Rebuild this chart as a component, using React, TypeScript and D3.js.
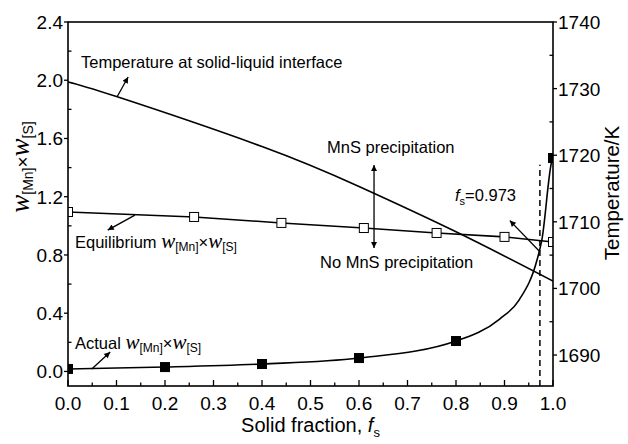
import React from 'react';
import * as d3 from 'd3';

// solid fraction / temperature at the interface (K)
const tempF = [0, 0.1, 0.4, 0.6, 0.8, 1.0];
const tempK = [1731, 1728.8, 1721.3, 1715.3, 1708.5, 1701.1];

// equilibrium w[Mn]*w[S] (open squares)
const eqF = [0, 0.26, 0.44, 0.61, 0.76, 0.9, 1.0];
const eqV = [1.095, 1.061, 1.02, 0.985, 0.951, 0.924, 0.889];

// actual w[Mn]*w[S]: markers and the curve through them
const actF = [0, 0.2, 0.4, 0.6, 0.8, 1.0];
const actV = [0.017, 0.03, 0.051, 0.092, 0.209, 1.466];
const actCurveF = [0, 0.2, 0.4, 0.6, 0.8, 0.89, 0.93, 0.967, 0.977, 0.998, 1.0];
const actCurveV = [0.017, 0.03, 0.051, 0.092, 0.209, 0.36, 0.49, 0.765, 0.903, 1.45, 1.466];

const xTicks = [0, 0.1, 0.2, 0.3, 0.4, 0.5, 0.6, 0.7, 0.8, 0.9, 1.0];
const yLTicks = [0, 0.4, 0.8, 1.2, 1.6, 2.0, 2.4];
const yRTicks = [1690, 1700, 1710, 1720, 1730, 1740];
const fsCrit = 0.973;

const W = 628, H = 444;
const L = 68, R = 553, T = 22, B = 386;
const font = '"Liberation Sans", Arial, sans-serif';
const serif = '"Liberation Serif", "Times New Roman", serif';

export default function App() {
  const x = d3.scaleLinear().domain([0, 1]).range([L, R]);
  const yL = d3.scaleLinear().domain([-0.1, 2.4]).range([B, T]);
  const yR = d3.scaleLinear().domain([1685.35, 1740]).range([B, T]);

  const natural = d3.line<[number, number]>().x(d => x(d[0])).y(d => d[1]).curve(d3.curveNatural);
  const smooth = d3.line<[number, number]>().x(d => x(d[0])).y(d => d[1]).curve(d3.curveMonotoneX);
  const straight = d3.line<[number, number]>().x(d => x(d[0])).y(d => d[1]);

  const tempPath = natural(tempF.map((f, i) => [f, yR(tempK[i])]));
  const eqPath = straight(eqF.map((f, i) => [f, yL(eqV[i])]));
  const actPath = smooth(actCurveF.map((f, i) => [f, yL(actCurveV[i])]));

  const xMinor = d3.range(0.05, 1, 0.1);
  const yLMinor = d3.range(0.2, 2.4, 0.4);
  const yRMinor = [1695, 1705, 1715, 1725, 1735];

  const arrow = (f1: number, v1: number, f2: number, v2: number, key: string) => (
    <line key={key} x1={x(f1)} y1={yL(v1)} x2={x(f2)} y2={yL(v2)} stroke="#000" strokeWidth={1.3}
      markerEnd="url(#ah)" />
  );

  const sq = 9;
  const wText = (size: number) => ({ fontFamily: serif, fontStyle: 'italic' as const, fontSize: size });

  return (
    <svg width={W} height={H} style={{ display: 'block', position: 'absolute', left: 0, top: 0, background: '#fff' }}>
      <defs>
        <clipPath id="plot"><rect x={L} y={T} width={R - L} height={B - T} /></clipPath>
        <marker id="ah" viewBox="0 0 10 10" refX="10" refY="5" markerWidth="9" markerHeight="6"
          markerUnits="userSpaceOnUse" orient="auto">
          <path d="M0,0 L10,5 L0,10 z" fill="#000" />
        </marker>
      </defs>
      <rect width={W} height={H} fill="#fff" />

      <g clipPath="url(#plot)" fill="none" stroke="#000" strokeWidth={1.6}>
        <path d={tempPath ?? ''} />
        <path d={eqPath ?? ''} />
        <path d={actPath ?? ''} />
        <line x1={x(fsCrit)} x2={x(fsCrit)} y1={B} y2={yL(1.42)} strokeDasharray="6,4" strokeWidth={1.5} />
        {eqF.map((f, i) => (
          <rect key={'e' + i} x={x(f) - sq / 2} y={yL(eqV[i]) - sq / 2} width={sq} height={sq}
            fill="#fff" stroke="#000" strokeWidth={1} />
        ))}
        {actF.map((f, i) => (
          <rect key={'a' + i} x={x(f) - sq / 2} y={yL(actV[i]) - sq / 2} width={sq} height={sq}
            fill="#000" stroke="#000" strokeWidth={1} />
        ))}
      </g>

      {/* frame */}
      <rect x={L} y={T} width={R - L} height={B - T} fill="none" stroke="#000" strokeWidth={1.6} />

      {/* ticks */}
      <g stroke="#000" strokeWidth={1.3}>
        {xTicks.map(t => <line key={'xt' + t} x1={x(t)} x2={x(t)} y1={B} y2={B - 6} />)}
        {xMinor.map(t => <line key={'xm' + t} x1={x(t)} x2={x(t)} y1={B} y2={B - 3.5} />)}
        {yLTicks.map(t => <line key={'ylt' + t} x1={L - 4} x2={L} y1={yL(t)} y2={yL(t)} />)}
        {yLMinor.map(t => <line key={'ylm' + t} x1={L} x2={L + 3.5} y1={yL(t)} y2={yL(t)} />)}
        {yRTicks.map(t => <line key={'yrt' + t} x1={R} x2={R + 4} y1={yR(t)} y2={yR(t)} />)}
        {yRMinor.map(t => <line key={'yrm' + t} x1={R - 3.5} x2={R} y1={yR(t)} y2={yR(t)} />)}
      </g>

      <g fontFamily={font} fontSize={19} fill="#000">
        {xTicks.map(t => (
          <text key={'xl' + t} x={x(t)} y={B + 24} textAnchor="middle">{t.toFixed(1)}</text>
        ))}
        {yLTicks.map(t => (
          <text key={'yl' + t} x={L - 5} y={yL(t) + 7} textAnchor="end">{t.toFixed(1)}</text>
        ))}
        {yRTicks.map(t => (
          <text key={'yr' + t} x={R + 5} y={yR(t) + 7} textAnchor="start">{t}</text>
        ))}
      </g>

      {/* axis titles */}
      <text x={(L + R) / 2} y={432} textAnchor="middle" fontFamily={font} fontSize={20}>
        Solid fraction, <tspan fontStyle="italic">f</tspan><tspan fontSize={13} dy={5}>s</tspan>
      </text>
      <text transform="translate(29,167) rotate(-90)" textAnchor="middle" fontFamily={font} fontSize={19}>
        <tspan {...wText(27)}>w</tspan><tspan fontSize={14} dy={4}>[Mn]</tspan>
        <tspan dy={-4}>×</tspan><tspan {...wText(27)}>w</tspan><tspan fontSize={14} dy={4}>[S]</tspan>
      </text>
      <text transform="translate(619,193) rotate(-90)" textAnchor="middle" fontFamily={font} fontSize={20.5}>
        Temperature/K
      </text>

      {/* annotations */}
      <g fontFamily={font} fontSize={16.5} fill="#000">
        <text x={81} y={68}>Temperature at solid-liquid interface</text>
        <text x={327} y={153}>MnS precipitation</text>
        <text x={320} y={268}>No MnS precipitation</text>
        <text x={455} y={201}>
          <tspan fontStyle="italic">f</tspan><tspan fontSize={11} dy={4}>s</tspan><tspan dy={-4}>=0.973</tspan>
        </text>
        <text x={75} y={248}>
          Equilibrium <tspan {...wText(21)}>w</tspan><tspan fontSize={12} dy={3}>[Mn]</tspan>
          <tspan dy={-3}>×</tspan><tspan {...wText(21)}>w</tspan><tspan fontSize={12} dy={3}>[S]</tspan>
        </text>
        <text x={75} y={349}>
          Actual <tspan {...wText(21)}>w</tspan><tspan fontSize={12} dy={3}>[Mn]</tspan>
          <tspan dy={-3}>×</tspan><tspan {...wText(21)}>w</tspan><tspan fontSize={12} dy={3}>[S]</tspan>
        </text>
      </g>

      {/* arrows (data coordinates on the left axis) */}
      {arrow(0.101, 1.885, 0.124, 2.022, 'a1')}
      {arrow(0.631, 1.13, 0.631, 1.418, 'a2')}
      {arrow(0.631, 1.13, 0.631, 0.848, 'a3')}
      {arrow(0.973, 0.822, 0.911, 1.036, 'a4')}
      {arrow(0.138, 1.074, 0.082, 0.971, 'a5')}
      {arrow(0.049, 0.017, 0.087, 0.133, 'a6')}
    </svg>
  );
}
